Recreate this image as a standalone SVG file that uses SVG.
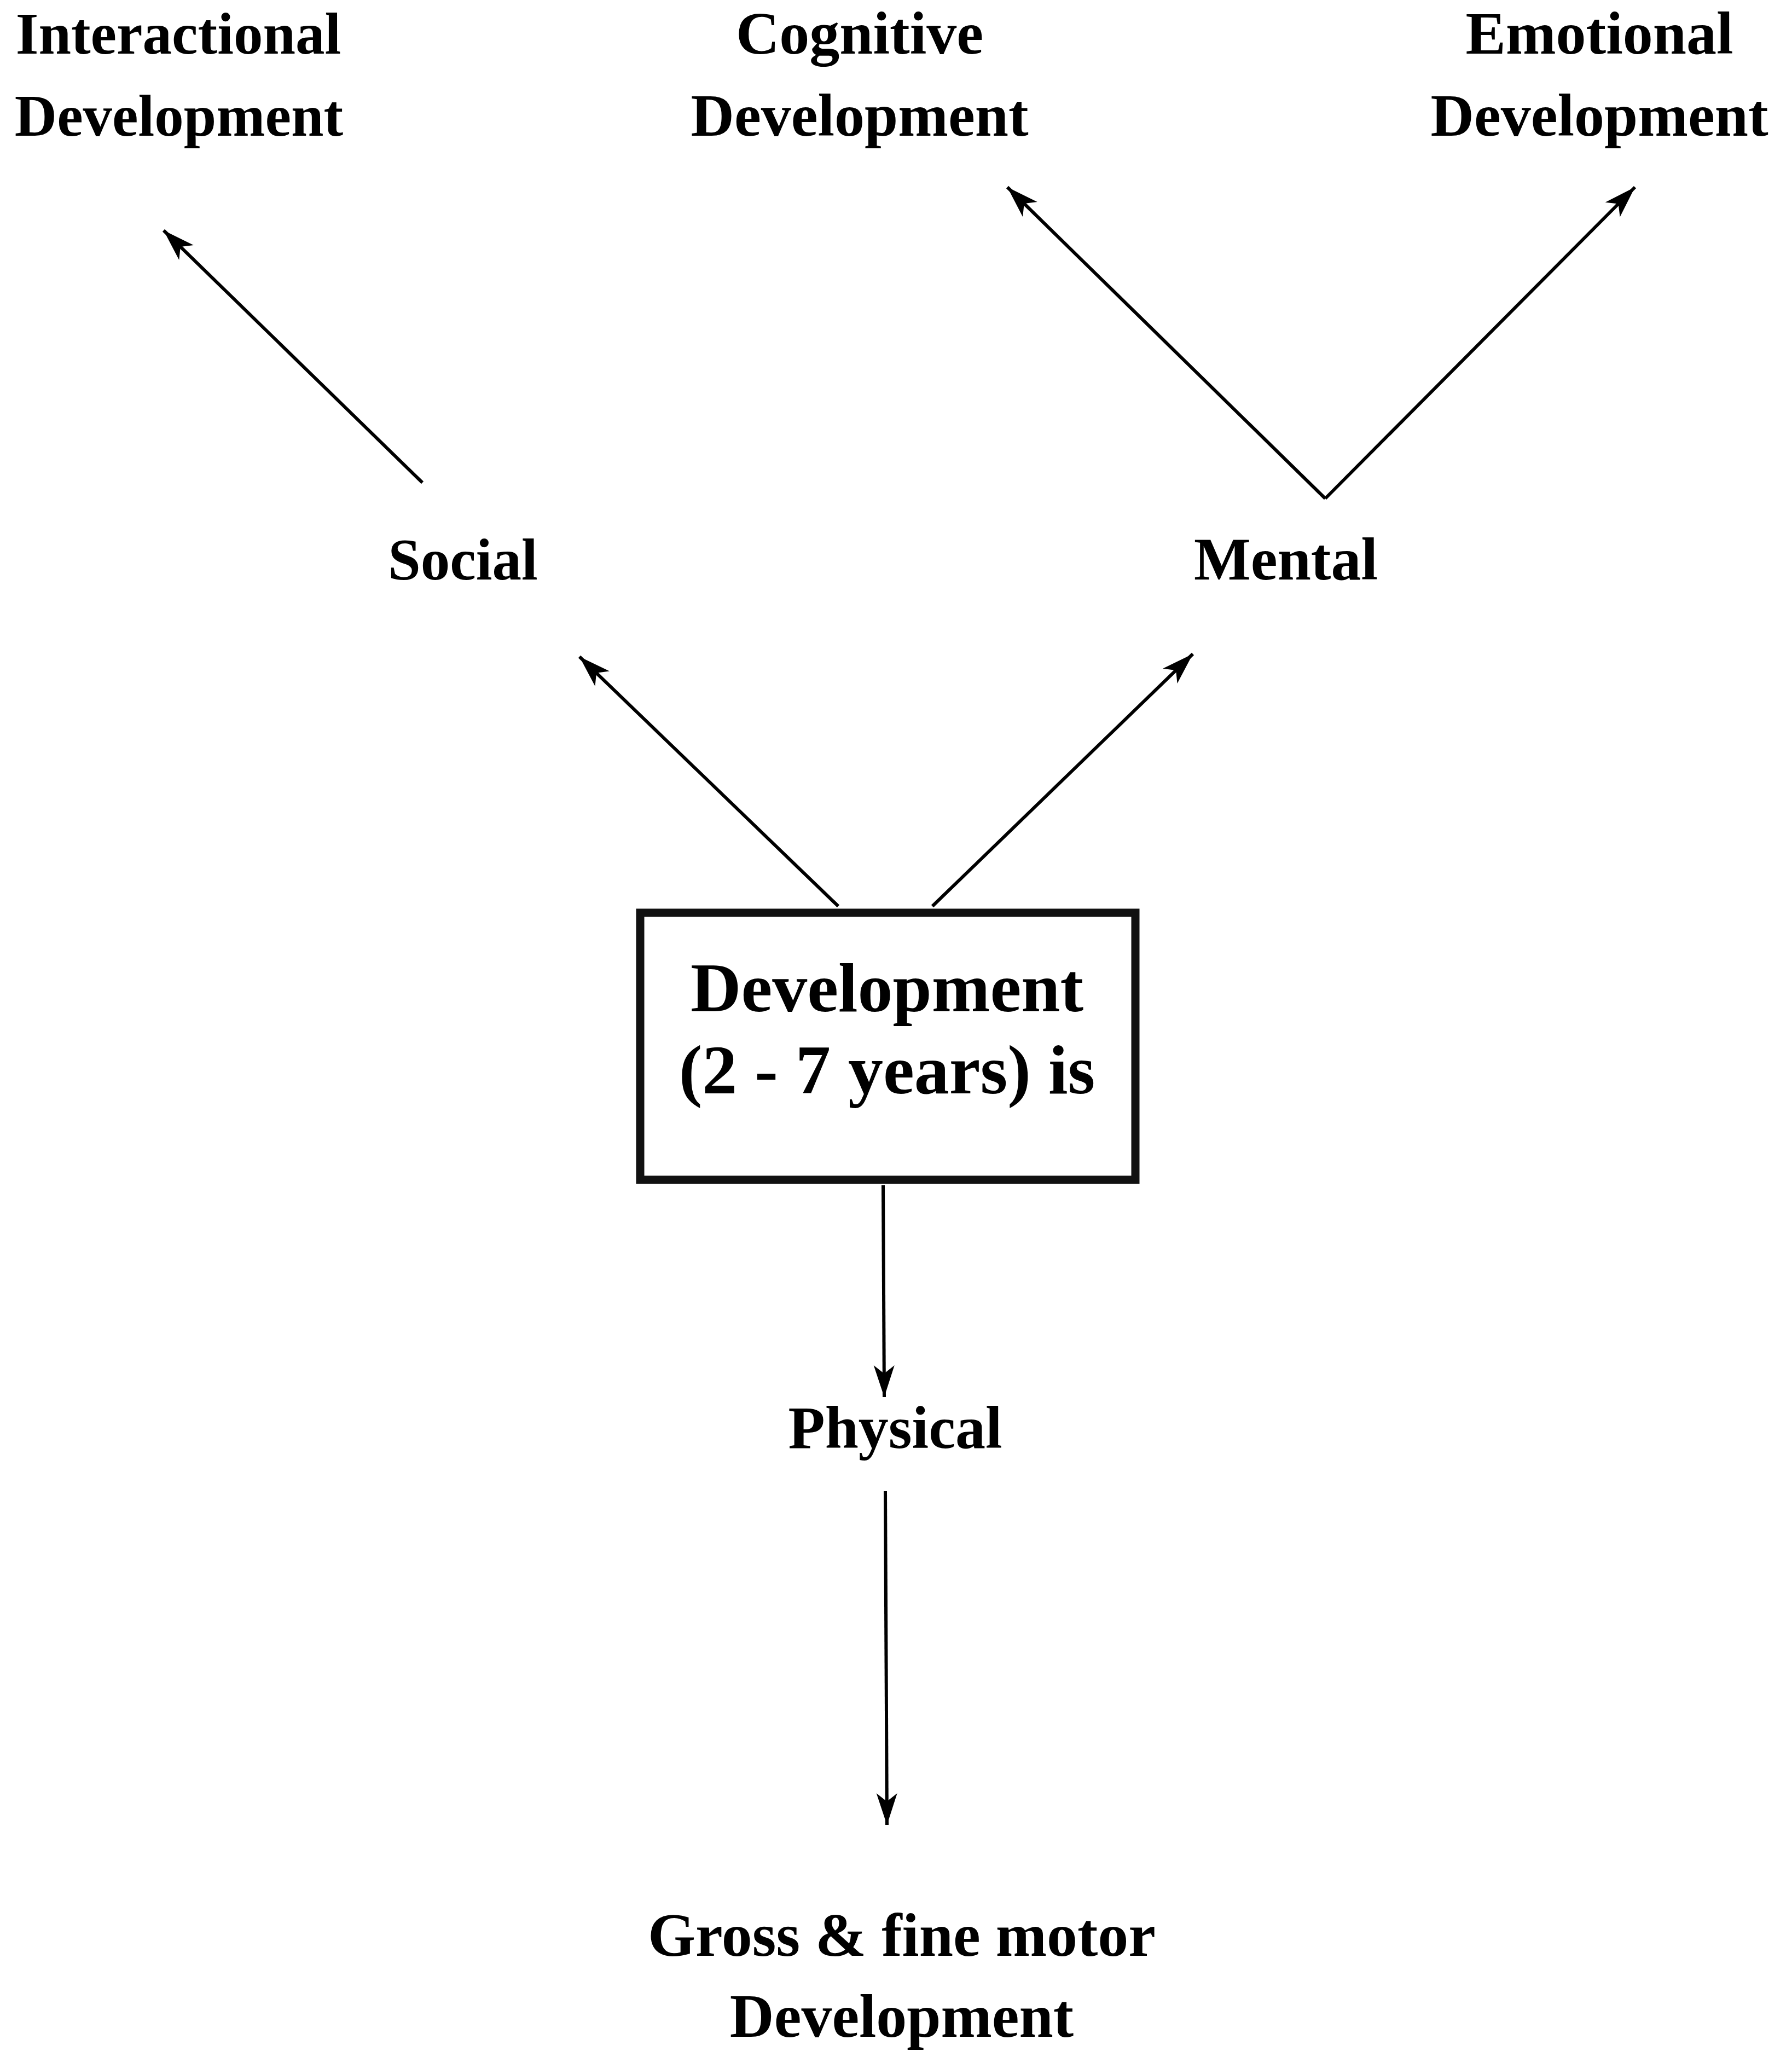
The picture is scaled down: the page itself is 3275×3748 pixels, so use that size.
<svg xmlns="http://www.w3.org/2000/svg" width="3275" height="3748" viewBox="0 0 3275 3748">
<style>
.t{font-family:"Liberation Serif","Times New Roman",serif;font-weight:bold;font-size:107px;fill:#000;text-anchor:middle}
.m{font-size:110px}
.g{font-size:112px}
.big{font-size:128px}
.c{stroke:#000;stroke-width:6;fill:none;marker-end:url(#ah)}
.box{fill:#fff;stroke:#111;stroke-width:15}
</style>
<defs>
<marker id="ah" viewBox="0 0 60 40" refX="60" refY="20" markerWidth="60" markerHeight="40" markerUnits="userSpaceOnUse" orient="auto">
<path d="M60,20 L2,1 L17,20 L2,39 Z" fill="#000"/>
</marker>
</defs>
<rect width="3275" height="3748" fill="#fff"/>
<g id="connectors">
<line class="c" x1="772" y1="882" x2="299" y2="421"/>
<line class="c" x1="2422" y1="911" x2="1841" y2="342"/>
<line class="c" x1="2422" y1="911" x2="2988" y2="342"/>
<line class="c" x1="1532" y1="1656" x2="1059" y2="1200"/>
<line class="c" x1="1704" y1="1656" x2="2180" y2="1195"/>
<line class="c" x1="1614" y1="2166" x2="1616" y2="2553"/>
<line class="c" x1="1618" y1="2725" x2="1621" y2="3335"/>
</g>
<g id="interactional">
<text class="t" x="326" y="98">Interactional</text>
<text class="t" x="327" y="248">Development</text>
</g>
<g id="cognitive">
<text class="t m" x="1571" y="98">Cognitive</text>
<text class="t m" x="1571" y="248">Development</text>
</g>
<g id="emotional">
<text class="t m" x="2923" y="98">Emotional</text>
<text class="t m" x="2923" y="248">Development</text>
</g>
<g id="social">
<text class="t" x="846" y="1059">Social</text>
</g>
<g id="mental">
<text class="t m" x="2350" y="1059">Mental</text>
</g>
<g id="development">
<rect class="box" x="1170" y="1668" width="905" height="488"/>
<text class="t big" x="1621" y="1848">Development</text>
<text class="t big" x="1621" y="1998">(2 - 7 years) is</text>
</g>
<g id="physical">
<text class="t m" x="1636" y="2646">Physical</text>
</g>
<g id="gross">
<text class="t g" x="1648" y="3574">Gross &amp; fine motor</text>
<text class="t g" x="1648" y="3722">Development</text>
</g>
</svg>
